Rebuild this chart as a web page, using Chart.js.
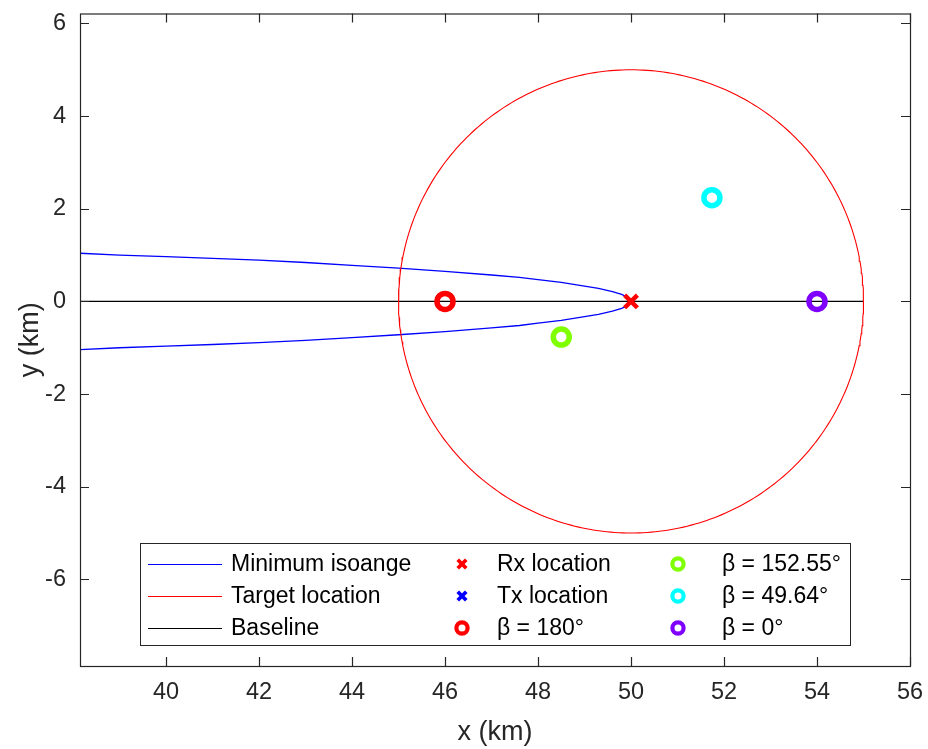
<!DOCTYPE html>
<html>
<head>
<meta charset="utf-8">
<script src="https://cdn.jsdelivr.net/npm/chart.js@4.4.0/dist/chart.umd.min.js"></script>
<style>
  html, body { margin: 0; padding: 0; background: #ffffff; }
  #wrap { width: 928px; height: 749px; }
</style>
</head>
<body>
<div id="wrap"><canvas id="c" width="928" height="749"></canvas></div>
<script>
// Axis limits and tick labels (km)
const xRange = [38.15, 56];
const yRange = [-7.87, 6.215];
const xTicks = [40, 42, 44, 46, 48, 50, 52, 54, 56];
const yTicks = [-6, -4, -2, 0, 2, 4, 6];

// Minimum isorange contour, sampled along x (upper and lower branches)
const isoX      = [38.15, 39, 40, 41, 42, 43, 44, 45, 46, 47, 47.6, 48, 48.5, 49, 49.3, 49.6, 49.8, 49.95, 50.02];
const isoUpperY = [1.04, 1.0, 0.965, 0.93, 0.89, 0.84, 0.78, 0.72, 0.65, 0.57, 0.52, 0.47, 0.41, 0.33, 0.28, 0.21, 0.15, 0.075, 0];
const isoLowerY = [-1.04, -1.0, -0.965, -0.93, -0.89, -0.84, -0.78, -0.72, -0.65, -0.57, -0.52, -0.47, -0.41, -0.33, -0.28, -0.21, -0.15, -0.075, 0];

// Target region: circle around the receiver
const targetCenter = [50, 0];
const targetRadius = 5;

// Transmitter / receiver positions and the baseline end
const txLocation = [0, 0];
const rxLocation = [50, 0];
const baselineEndX = 55;

// Example target positions and their bistatic angles
const betaLabels = ['β = 180°', 'β = 152.55°', 'β = 49.64°', 'β = 0°'];
const betaX = [46, 48.5, 51.74, 54];
const betaY = [0, -0.77, 2.24, 0];
const betaColors = ['#ff0000', '#80ff00', '#00ffff', '#8000ff'];

// ---- build point lists for the library ----
const isoPath = [];
for (let i = 0; i < isoX.length; i++) isoPath.push({ x: isoX[i], y: isoUpperY[i] });
for (let i = isoX.length - 2; i >= 0; i--) isoPath.push({ x: isoX[i], y: isoLowerY[i] });

const circlePts = [];
for (let k = 0; k <= 360; k++) {
  const a = k * Math.PI / 180;
  circlePts.push({ x: targetCenter[0] + targetRadius * Math.cos(a), y: targetCenter[1] + targetRadius * Math.sin(a) });
}

const basePts = [{ x: txLocation[0], y: txLocation[1] }, { x: baselineEndX, y: rxLocation[1] }];

const FONT = '"Liberation Sans", Arial, Helvetica, sans-serif';
const AXIS_COLOR = '#262626';

function lineSet(label, data, color, width, order) {
  return { label, data, showLine: true, borderColor: color, backgroundColor: color,
           borderWidth: width, pointRadius: 0, pointHoverRadius: 0, tension: 0, order, legendKind: 'line' };
}
function markerSet(label, x, y, color, style, radius, width, order, legendRadius, legendWidth) {
  return { label, data: [{ x, y }], showLine: false, pointStyle: style,
           pointRadius: radius, pointHoverRadius: radius, pointBorderWidth: width, pointHoverBorderWidth: width,
           borderColor: color, pointBorderColor: color, pointBackgroundColor: 'rgba(0,0,0,0)',
           backgroundColor: 'rgba(0,0,0,0)', order, legendKind: 'point', legendRadius, legendWidth };
}

const datasets = [
  lineSet('Minimum isoange', isoPath, '#0000ff', 1.3, 8),
  lineSet('Target location', circlePts, '#ff0000', 1.1, 7),
  lineSet('Baseline', basePts, '#000000', 1.3, 9),
  markerSet('Rx location', rxLocation[0], rxLocation[1], '#ff0000', 'crossRot', 9, 4.5, 2, 6, 3.8),
  markerSet('Tx location', txLocation[0], txLocation[1], '#0000ff', 'crossRot', 9, 4.5, 2, 6, 3.8),
];
betaLabels.forEach((lab, i) => {
  datasets.push(markerSet(lab, betaX[i], betaY[i], betaColors[i], 'circle', 8, 5.5, 1, 5.6, 4.2));
});
// legend entries column by column: lines | Rx, Tx, β=180° | remaining angles
const legendColumns = [[0, 1, 2], [3, 4, 5], [6, 7, 8]];

// Box around the axes with inward tick marks on all four sides
const boxTicks = {
  id: 'boxTicks',
  afterDatasetsDraw(chart) {
    const { ctx, chartArea: a } = chart;
    const xs = chart.scales.x, ys = chart.scales.y;
    const L = 9;
    ctx.save();
    ctx.strokeStyle = AXIS_COLOR;
    ctx.lineWidth = 1.2;
    ctx.beginPath();
    xTicks.forEach(v => {
      const p = Math.round(xs.getPixelForValue(v)) + 0.5;
      ctx.moveTo(p, a.bottom); ctx.lineTo(p, a.bottom - L);
      ctx.moveTo(p, a.top); ctx.lineTo(p, a.top + L);
    });
    yTicks.forEach(v => {
      const p = Math.round(ys.getPixelForValue(v)) + 0.5;
      ctx.moveTo(a.left, p); ctx.lineTo(a.left + L, p);
      ctx.moveTo(a.right, p); ctx.lineTo(a.right - L, p);
    });
    ctx.stroke();
    ctx.strokeRect(a.left + 0.5, a.top + 0.5, a.right - a.left, a.bottom - a.top);
    ctx.restore();
  }
};

// Legend panel inside the axes, three columns
const boxLegend = {
  id: 'boxLegend',
  afterDraw(chart) {
    const { ctx } = chart;
    const box = { left: 140.5, top: 543.5, right: 850.5, bottom: 645.5 };
    const rows = [564, 596, 628];
    const cols = [
      { kindX0: 148, kindX1: 222, textX: 231 },
      { markX: 462, textX: 497 },
      { markX: 678, textX: 722 }
    ];
    ctx.save();
    ctx.fillStyle = '#ffffff';
    ctx.fillRect(box.left, box.top, box.right - box.left, box.bottom - box.top);
    ctx.strokeStyle = AXIS_COLOR;
    ctx.lineWidth = 1;
    ctx.strokeRect(box.left, box.top, box.right - box.left, box.bottom - box.top);
    ctx.font = '23px ' + FONT;
    ctx.textBaseline = 'middle';
    ctx.textAlign = 'left';
    legendColumns.forEach((col, c) => {
      col.forEach((di, r) => {
        const d = chart.data.datasets[di];
        const y = rows[r];
        const g = cols[c];
        if (d.legendKind === 'line') {
          ctx.strokeStyle = d.borderColor;
          ctx.lineWidth = 1.2;
          ctx.beginPath();
          ctx.moveTo(g.kindX0, y + 0.5); ctx.lineTo(g.kindX1, y + 0.5);
          ctx.stroke();
        } else {
          ctx.strokeStyle = d.pointBorderColor;
          ctx.fillStyle = 'rgba(0,0,0,0)';
          ctx.lineWidth = d.legendWidth;
          Chart.helpers.drawPoint(ctx, { pointStyle: d.pointStyle, radius: d.legendRadius, borderWidth: d.legendWidth, rotation: 0 }, g.markX, y);
        }
        ctx.fillStyle = '#000000';
        ctx.fillText(d.label, g.textX, y + 1);
      });
    });
    ctx.restore();
  }
};

new Chart(document.getElementById('c'), {
  type: 'scatter',
  data: { datasets },
  options: {
    responsive: false,
    animation: false,
    events: [],
    layout: { padding: { left: 0, right: 18, top: 11, bottom: 0 } },
    plugins: { legend: { display: false }, tooltip: { enabled: false } },
    scales: {
      x: {
        type: 'linear', min: xRange[0], max: xRange[1],
        afterBuildTicks: s => { s.ticks = xTicks.map(v => ({ value: v })); },
        afterFit: s => { s.height = 83; s.paddingLeft = 0; s.paddingRight = 0; },
        grid: { display: true, drawOnChartArea: false, drawTicks: false },
        border: { display: false },
        ticks: { color: AXIS_COLOR, font: { family: FONT, size: 23.5 }, padding: 12, maxRotation: 0, autoSkip: false },
        title: { display: true, text: 'x (km)', color: AXIS_COLOR, font: { family: FONT, size: 27 }, padding: { top: 0, bottom: 0 } }
      },
      y: {
        type: 'linear', min: yRange[0], max: yRange[1],
        afterBuildTicks: s => { s.ticks = yTicks.map(v => ({ value: v })); },
        afterFit: s => { s.width = 80; s.paddingTop = 0; s.paddingBottom = 0; },
        grid: { display: true, drawOnChartArea: false, drawTicks: false },
        border: { display: false },
        ticks: { color: AXIS_COLOR, font: { family: FONT, size: 23.5 }, padding: 14, autoSkip: false },
        title: { display: true, text: 'y (km)', color: AXIS_COLOR, font: { family: FONT, size: 27 }, padding: { top: 14, bottom: 0 } }
      }
    }
  },
  plugins: [boxTicks, boxLegend]
});
</script>
</body>
</html>
